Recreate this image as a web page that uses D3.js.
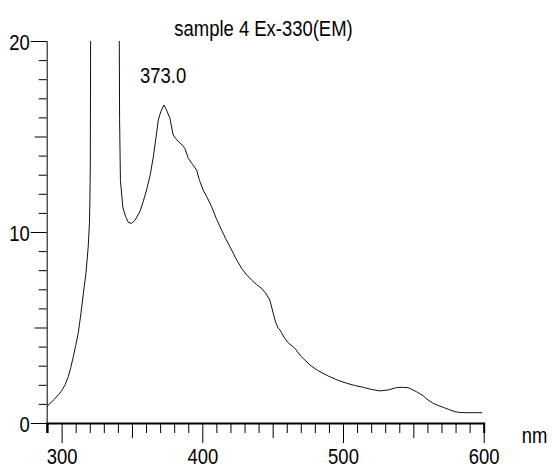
<!DOCTYPE html>
<html>
<head>
<meta charset="utf-8">
<script src="https://cdn.jsdelivr.net/npm/d3@7"></script>
<style>
    body { margin: 0; background: #fff; }
    svg { display: block; }
    .lbl { font-family: "Liberation Sans", Arial, sans-serif; font-size: 22.5px; fill: #000; }
</style>
</head>
<body>
<script>
const width = 552;
const height = 468;
const squeeze = 0.82; // the reference uses a narrow face

// emission spectrum (nm, intensity)
const wavelength = [289.5, 292, 295, 298, 300, 302.5, 304.7, 306.5, 308.3, 310, 311.8, 313.5, 314.9, 316, 317.3,
    318.9, 319.8, 320.1, 320.4, 320.6, 321, 340.5, 341, 341.2, 341.8, 343.5, 345.5, 347.5, 349.7, 352, 355.6,
    358, 360.4, 363, 365.1, 367, 368.7, 370.5, 372.7, 374.5, 377, 379.3, 381, 383.5, 386.4, 387.6, 390, 393,
    395.9, 398, 400.6, 403.5, 406.6, 410, 413.7, 417, 420.8, 424, 427.9, 431, 435, 438.5, 442.1, 445, 448,
    450.4, 452, 453.9, 455.2, 458, 461, 465.8, 470, 476.5, 482, 489.5, 496, 502.6, 508, 514.4, 520, 526.2,
    532.1, 538, 542, 546.3, 552.2, 557, 560.5, 564.1, 567.5, 571.2, 575.5, 579.5, 583, 586.6, 592, 598.9];
const intensity = [0.85, 1.05, 1.25, 1.5, 1.69, 2.0, 2.42, 2.9, 3.47, 4.05, 4.7, 5.6, 6.44, 7.1, 7.84,
    9.23, 10.5, 11.7, 13.6, 20, 30, 30, 20, 15.9, 12.7, 11.3, 10.8, 10.5, 10.45, 10.6, 11.06,
    11.6, 12.2, 13.0, 13.9, 14.9, 15.86, 16.3, 16.65, 16.4, 15.95, 15.08, 14.9, 14.7, 14.5, 14.38, 13.86, 13.55,
    13.25, 12.7, 12.2, 11.8, 11.32, 10.7, 10.1, 9.6, 9.06, 8.6, 8.1, 7.8, 7.49, 7.25, 7.05, 6.8, 6.44,
    5.74, 5.3, 4.96, 4.87, 4.5, 4.2, 3.91, 3.5, 3.04, 2.75, 2.46, 2.25, 2.08, 1.97, 1.87, 1.76, 1.68,
    1.73, 1.85, 1.87, 1.85, 1.64, 1.43, 1.2, 1.03, 0.92, 0.82, 0.7, 0.59, 0.55, 0.54, 0.54, 0.54];

const xTicks = d3.range(290, 601, 10);
const xLabels = [300, 400, 500, 600];
const yTicks = d3.range(0, 21, 1);
const yLabels = [0, 10, 20];
const title = "sample 4 Ex-330(EM)";
const peakLabel = "373.0";
const unitLabel = "nm";

const x = d3.scaleLinear().domain([289.4, 600]).range([46.7, 483.7]);
const y = d3.scaleLinear().domain([0, 20]).range([423, 41]);

const svg = d3.select("body").append("svg")
    .attr("width", width)
    .attr("height", height);

// place a label with the narrow squeeze around its anchor point
const place = (sel, px, py) => sel
    .attr("x", 0).attr("y", 0)
    .attr("transform", `translate(${px},${py}) scale(${squeeze},1)`);

svg.append("defs").append("clipPath").attr("id", "plot")
    .append("rect")
    .attr("x", x.range()[0]).attr("y", y.range()[1])
    .attr("width", x.range()[1] - x.range()[0]).attr("height", y.range()[0] - y.range()[1]);

// x axis: ticks every 10 nm, longer at 50 and 100
const gx = svg.append("g")
    .attr("transform", `translate(0,${y(0)})`)
    .call(d3.axisBottom(x).tickValues(xTicks).tickSizeOuter(0).tickSize(10)
        .tickFormat(d => xLabels.includes(d) ? d : ""));
gx.attr("font-family", null).attr("font-size", null);
gx.select(".domain").attr("stroke", "#000").attr("stroke-width", 2);
gx.selectAll(".tick line")
    .attr("stroke", "#000")
    .attr("y2", d => d % 100 === 0 ? 20 : d % 50 === 0 ? 15 : 10);
gx.selectAll(".tick text")
    .attr("class", "lbl")
    .attr("dy", 0)
    .call(place, 0, 41);

// y axis: ticks every 1, longer at 5 and 10
const gy = svg.append("g")
    .attr("transform", `translate(${x.range()[0]},0)`)
    .call(d3.axisLeft(y).tickValues(yTicks).tickSizeOuter(0).tickSize(8)
        .tickFormat(d => yLabels.includes(d) ? d : ""));
gy.attr("font-family", null).attr("font-size", null);
gy.select(".domain").attr("stroke", "#000").attr("stroke-width", 1);
gy.selectAll(".tick line")
    .attr("stroke", "#000")
    .attr("x2", d => d % 10 === 0 ? -16 : d % 5 === 0 ? -12 : -8);
gy.selectAll(".tick text")
    .attr("class", "lbl")
    .attr("dy", "0.36em")
    .call(place, -17, 0);

// spectrum
const line = d3.line()
    .x((d, i) => x(wavelength[i]))
    .y(d => y(d));

svg.append("path")
    .datum(intensity)
    .attr("clip-path", "url(#plot)")
    .attr("fill", "none")
    .attr("stroke", "#111")
    .attr("stroke-width", 1)
    .attr("d", line);

svg.append("text").attr("class", "lbl")
    .attr("text-anchor", "middle")
    .text(title)
    .call(place, 263.5, 35.5);

svg.append("text").attr("class", "lbl")
    .text(peakLabel)
    .call(place, 140, 82.7);

svg.append("text").attr("class", "lbl")
    .text(unitLabel)
    .call(place, 521.7, 443.3);
</script>
</body>
</html>
